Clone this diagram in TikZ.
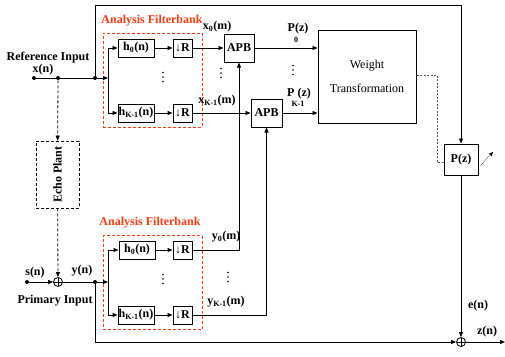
\documentclass[tikz,border=0pt]{standalone}
\usepackage{fontspec}
\setmainfont{Liberation Serif}
\usetikzlibrary{arrows.meta, positioning}

\definecolor{fbred}{RGB}{250,60,20}

\begin{document}
\begin{tikzpicture}[x=1pt, y=-1pt, line width=0.8pt,
    >={Triangle[length=5pt,width=4pt]},
    blk/.style={rectangle, draw, line width=1pt, inner sep=0pt,
                font=\bfseries\fontsize{12}{13}\selectfont},
    lbl/.style={inner sep=0pt, font=\bfseries\fontsize{12}{13}\selectfont},
    sublbl/.style={inner sep=0pt, font=\bfseries\fontsize{8}{9}\selectfont},
    fblbl/.style={inner sep=0pt, text=fbred, font=\bfseries\fontsize{12}{13}\selectfont},
    fbank/.style={draw=fbred, dash pattern=on 3pt off 2pt, line width=0.7pt,
                  minimum width=99pt, minimum height=94pt, inner sep=0pt},
    hbox/.style={blk, minimum width=36pt, minimum height=18pt},
    rbox/.style={blk, minimum width=19pt, minimum height=18pt},
    dot/.style={circle, fill, inner sep=0pt, minimum size=4pt},
    vdot/.style={circle, fill, inner sep=0pt, minimum size=1.9pt},
    sumnode/.style={circle, draw, line width=0.8pt, inner sep=0pt, minimum size=9pt,
                    path picture={\draw[line width=0.6pt]
                      (path picture bounding box.north) -- (path picture bounding box.south)
                      (path picture bounding box.west) -- (path picture bounding box.east);}}
]
\useasboundingbox (0,0) rectangle (505,356);

% reference input
\node[dot] (xin) at (34,78) {};
\node[dot] (xep) at (58,78) {};
\node[dot] (xfb) at (95,78) {};
\node[lbl] (reflbl) at (48,58) {Reference Input};
\node[lbl] (xlbl) at (43,70) {x(n)};
\draw (xin) -- (xfb);

% upper analysis filterbank
\node[fbank] (fba) at (152.5,80) {};
\node[fblbl] (fbalbl) at (152,21) {Analysis Filterbank};
\node[hbox] (h0a) at (136,48) {h\textsubscript{0}(n)};
\node[hbox] (hKa) at (136,113) {h\textsubscript{K-1}(n)};
\node[rbox] (r0a) at (182.5,48) {↓R};
\node[rbox] (rKa) at (182.5,113) {↓R};
\coordinate (spa) at (108,78);
\draw[->] (xfb) -- (spa);
\draw[->] (spa) |- (h0a);
\draw[->] (spa) |- (hKa);
\draw[->] (h0a) -- (r0a);
\draw[->] (hKa) -- (rKa);

% subband processing
\node[blk, minimum width=30pt, minimum height=28pt] (apb0) at (239,48) {APB};
\node[blk, minimum width=31pt, minimum height=28pt] (apbK) at (266.5,113) {APB};
\node[lbl] (x0lbl) at (217,27) {x\textsubscript{0}(m)};
\node[lbl] (xKlbl) at (217,101) {x\textsubscript{K-1}(m)};
\draw[->] (r0a) -- (apb0);
\draw[->] (rKa) -- (apbK);

% weight transformation
\node[blk, font=\fontsize{12}{13}\selectfont, align=center,
      minimum width=98pt, minimum height=93pt] (wt) at (367,76.5) {Weight\\[11pt]Transformation};
\node[lbl] (p0lbl) at (298,29) {P(z)};
\node[sublbl] (p0sub) at (296,40) {0};
\node[lbl] (pKlbl) at (299,94) {P (z)};
\node[sublbl] (pKsub) at (298,104) {K-1};
\draw[->] (apb0) -- (apb0 -| wt.west);
\draw[->] (apbK) -- (apbK -| wt.west);

% adaptive filter
\node[blk, minimum width=34pt, minimum height=31pt] (pz) at (461,159.5) {P(z)};
\coordinate (tl) at (95,5);
\draw[->] (xfb) -- (tl) -| (pz);
\coordinate (dsh) at (437,75);
\coordinate (dsh2) at (437,162);
\draw[black!65, dash pattern=on 2pt off 1.5pt, line width=0.6pt]
    (wt.east |- dsh) -- (dsh) -- (dsh2) -- (dsh2 -| pz.west);
\coordinate (adj) at (480,166);
\draw[densely dotted, line width=0.6pt, -{Triangle[length=4pt,width=3.5pt]}] (adj) -- ++(13,-14);

% echo plant and primary input
\node[blk, dash pattern=on 3pt off 2pt, line width=0.8pt,
      minimum width=43pt, minimum height=67pt] (ep) at (57.5,174.5) {\rotatebox{90}{Echo Plant}};
\draw[dash pattern=on 3pt off 2pt, ->] (xep) -- (ep);
\node[sumnode] (s1) at (58,282) {};
\draw[dash pattern=on 3pt off 2pt, ->] (ep) -- (s1);
\node[dot] (sin) at (27,282) {};
\node[dot] (yfb) at (95,282) {};
\node[lbl] (slbl) at (35,273) {s(n)};
\node[lbl] (ylbl) at (82,271) {y(n)};
\node[lbl] (prilbl) at (55,301) {Primary Input};
\draw[->] (sin) -- (s1);
\draw (s1) -- (yfb);

% lower analysis filterbank
\node[fbank] (fbb) at (152.5,282.5) {};
\node[fblbl] (fbblbl) at (150,223) {Analysis Filterbank};
\node[hbox] (h0b) at (137,250) {h\textsubscript{0}(n)};
\node[hbox] (hKb) at (136,315) {h\textsubscript{K-1}(n)};
\node[rbox] (r0b) at (182.5,250) {↓R};
\node[rbox] (rKb) at (182.5,315) {↓R};
\coordinate (spb) at (108,282);
\draw[->] (yfb) -- (spb);
\draw[->] (spb) |- (h0b);
\draw[->] (spb) |- (hKb);
\draw[->] (h0b) -- (r0b);
\draw[->] (hKb) -- (rKb);
\node[lbl] (y0lbl) at (226,237) {y\textsubscript{0}(m)};
\node[lbl] (yKlbl) at (226,302) {y\textsubscript{K-1}(m)};
\draw[->] (r0b) -| (apb0);
\draw[->] (rKb) -| (apbK);

% vertical ellipses
\foreach \n/\px/\py in {fa/163/77, xa/221/73, pa/293/70, fb/163/279, ya/228/277}{
    \node[vdot] (\n1) at (\px,\py-4.5) {};
    \node[vdot] (\n2) at (\px,\py) {};
    \node[vdot] (\n3) at (\px,\py+4.5) {};
}

% error output
\node[sumnode] (s2) at (461,342) {};
\coordinate (bl) at (95,342);
\coordinate (zout) at (505,342);
\draw[->] (yfb) -- (bl) -- (s2);
\draw[->] (pz) -- (s2);
\draw[->] (s2) -- (zout);
\node[lbl] (elbl) at (478,306) {e(n)};
\node[lbl] (zlbl) at (487,332) {z(n)};
\end{tikzpicture}
\end{document}
